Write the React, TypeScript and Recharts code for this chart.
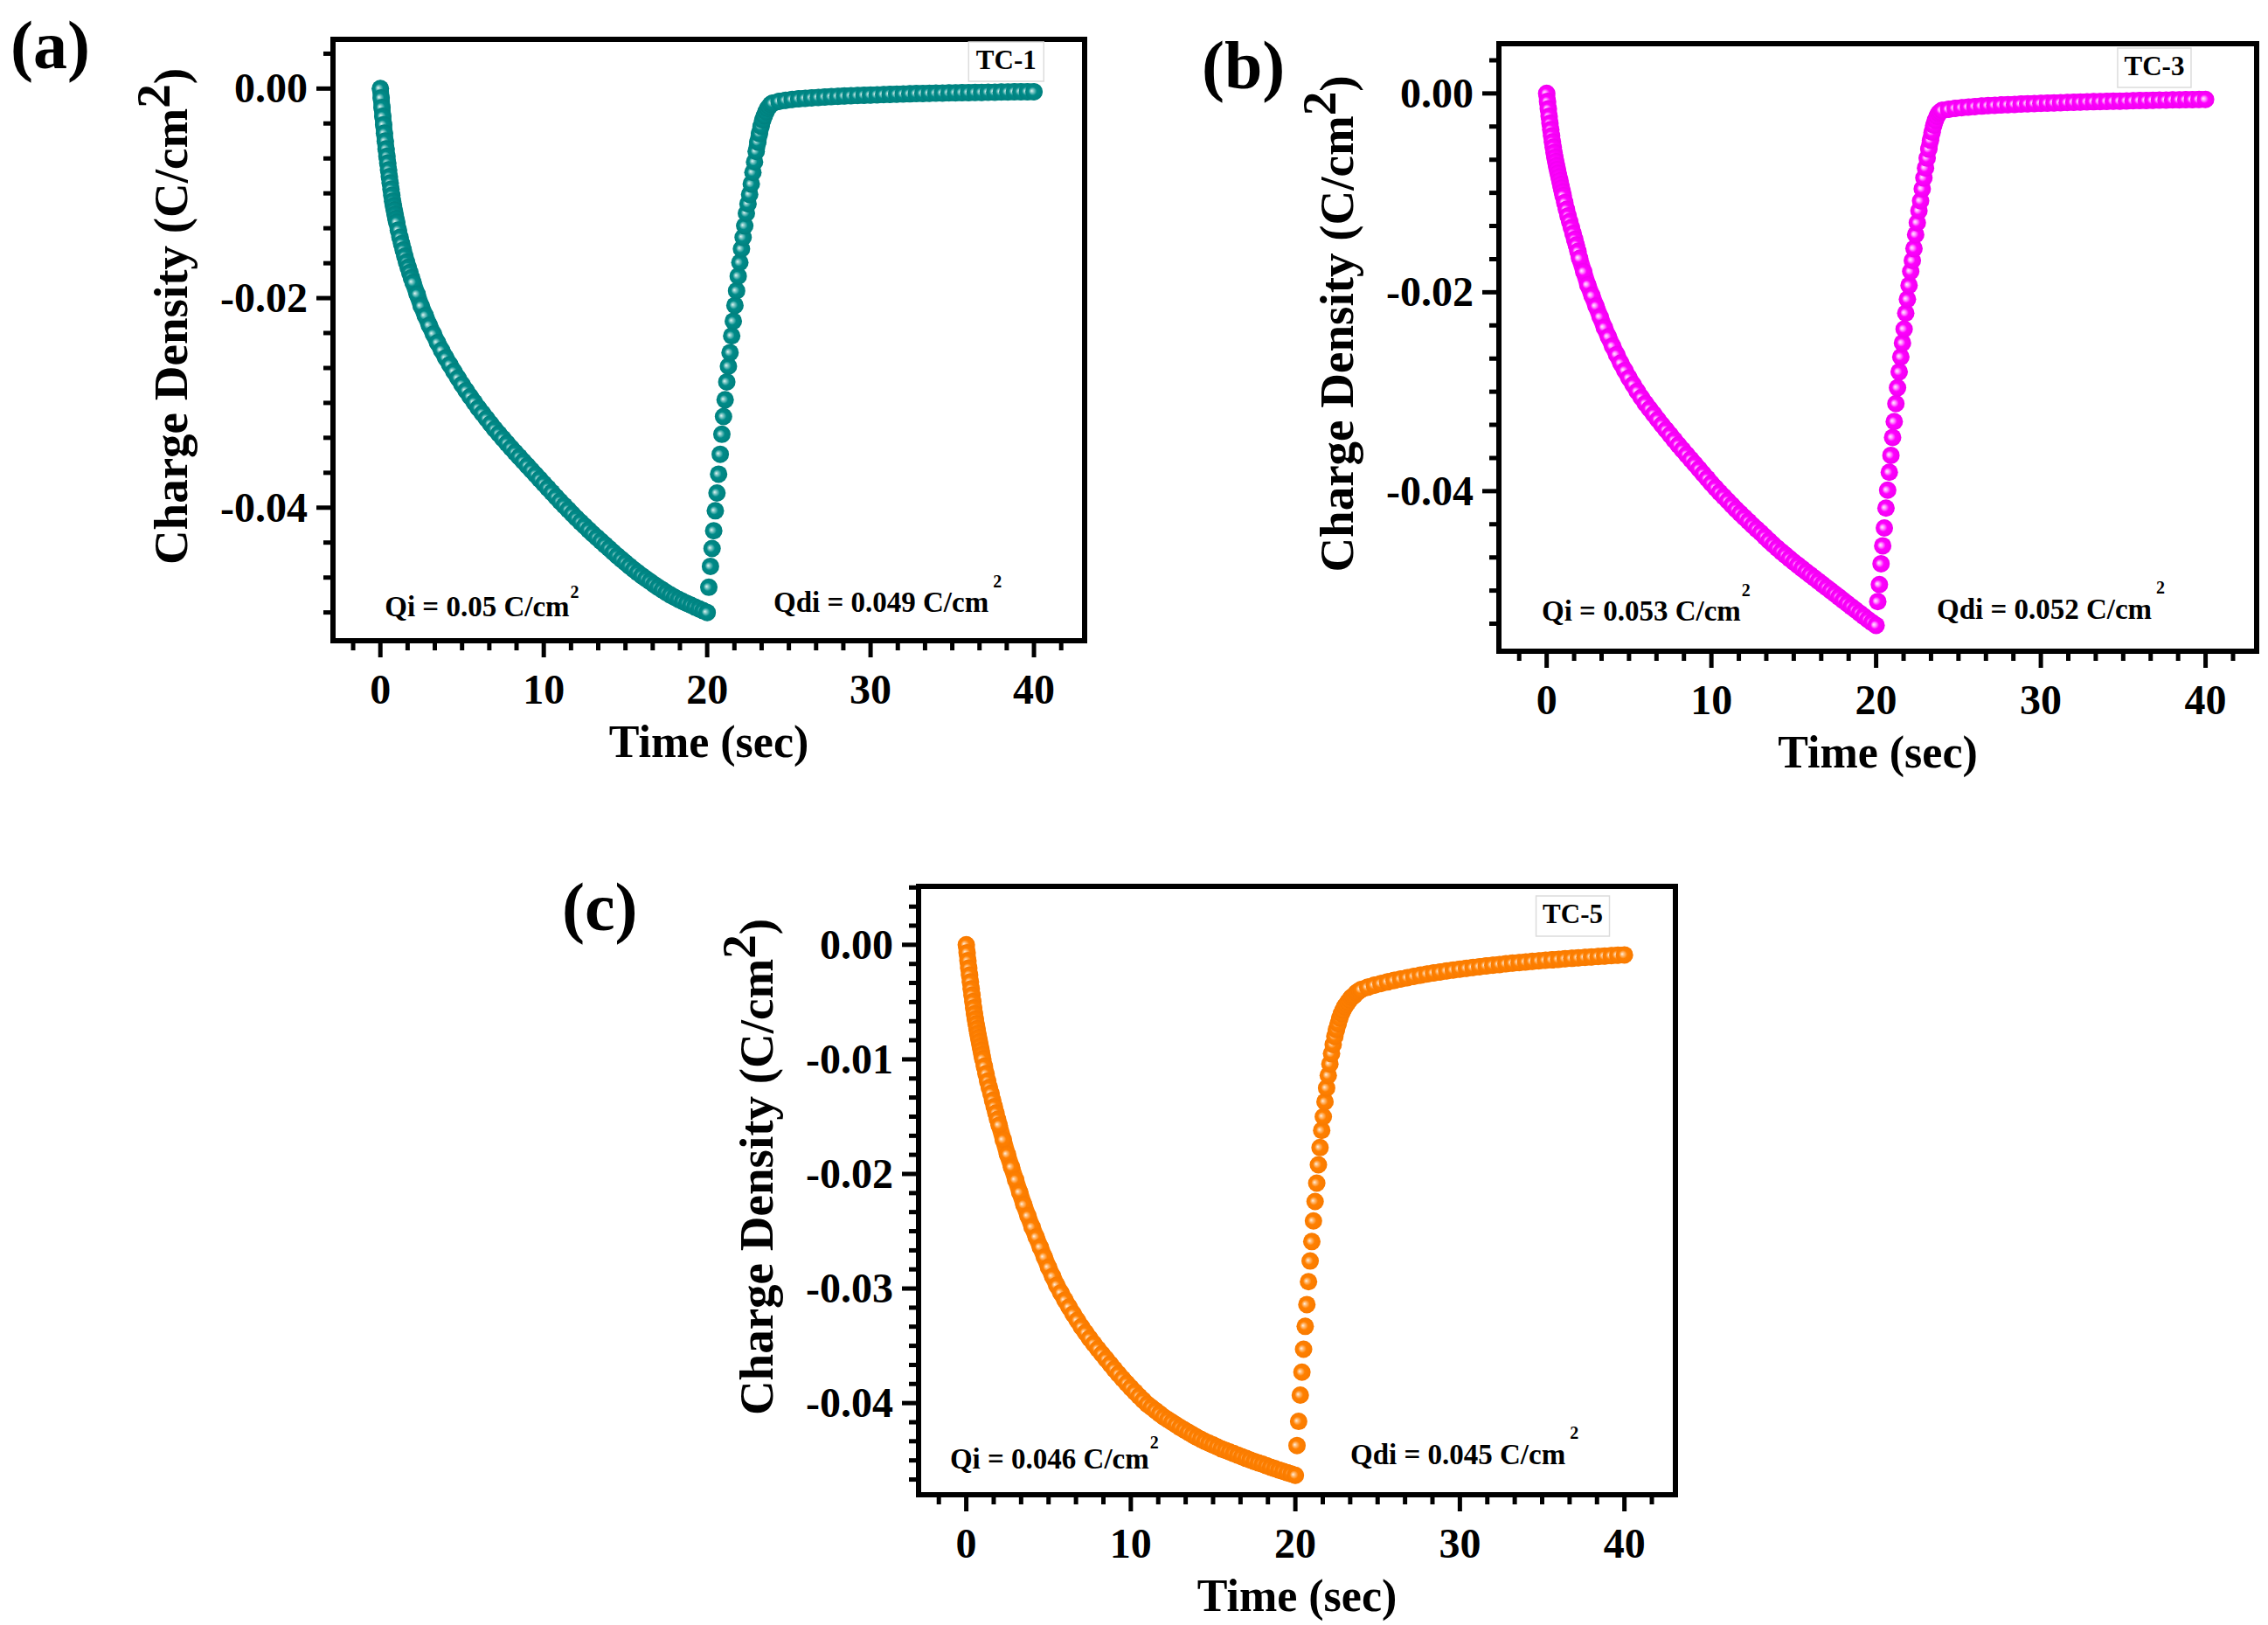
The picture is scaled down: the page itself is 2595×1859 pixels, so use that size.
import React from 'react';
import { ScatterChart, Scatter, XAxis, YAxis, ReferenceArea, ReferenceDot } from 'recharts';

const FONT = '"Liberation Serif", "Times New Roman", Times, serif';

// ---- sampling times (s) ----
const CHARGE_T = [
  0, 0.05, 0.1, 0.15, 0.2, 0.25, 0.3, 0.35, 0.4, 0.45, 0.5, 0.55, 0.6, 0.65, 0.7, 0.75, 0.8, 0.85, 0.9, 0.95, 1,
  1.1, 1.2, 1.3, 1.4, 1.5, 1.6, 1.7, 1.8, 1.9, 2,
  2.25, 2.5, 2.75, 3, 3.25, 3.5, 3.75, 4,
  4.25, 4.5, 4.75, 5, 5.25, 5.5, 5.75, 6,
  6.25, 6.5, 6.75, 7, 7.25, 7.5, 7.75, 8,
  8.25, 8.5, 8.75, 9, 9.25, 9.5, 9.75, 10,
  10.25, 10.5, 10.75, 11, 11.25, 11.5, 11.75, 12,
  12.25, 12.5, 12.75, 13, 13.25, 13.5, 13.75, 14,
  14.25, 14.5, 14.75, 15, 15.25, 15.5, 15.75, 16,
  16.25, 16.5, 16.75, 17, 17.25, 17.5, 17.75, 18,
  18.25, 18.5, 18.75, 19, 19.25, 19.5, 19.75, 20,
];
const DISCHARGE_T = [
  20.1, 20.2, 20.3, 20.4, 20.5, 20.6, 20.7, 20.8, 20.9, 21,
  21.1, 21.2, 21.3, 21.4, 21.5, 21.6, 21.7, 21.8, 21.9, 22,
  22.1, 22.2, 22.3, 22.4, 22.5, 22.6, 22.7, 22.8, 22.9, 23,
  23.1, 23.2, 23.3, 23.4, 23.5, 23.6, 23.7, 23.8, 23.9, 24,
  24.4, 24.8, 25.2, 25.6, 26, 26.4, 26.8, 27.2, 27.6, 28,
  28.4, 28.8, 29.2, 29.6, 30, 30.4, 30.8, 31.2, 31.6, 32,
  32.4, 32.8, 33.2, 33.6, 34, 34.4, 34.8, 35.2, 35.6, 36,
  36.4, 36.8, 37.2, 37.6, 38, 38.4, 38.8, 39.2, 39.6, 40,
];

// ---- TC-1 (C/cm2) ----
const TC1_CHARGE = [
  0, -0.0009, -0.0018, -0.00265, -0.00345, -0.00425, -0.005, -0.00575, -0.00645, -0.0071, -0.00775, -0.0084, -0.009, -0.0096, -0.0102, -0.01075, -0.0112, -0.0116, -0.012, -0.0124, -0.01275,
  -0.0135, -0.0142, -0.0148, -0.0154, -0.016, -0.01655, -0.01705, -0.01755, -0.01805, -0.0185,
  -0.01963, -0.02075, -0.02168, -0.0226, -0.02343, -0.02425, -0.02498, -0.0257,
  -0.02635, -0.027, -0.02763, -0.02825, -0.02883, -0.0294, -0.02995, -0.0305,
  -0.031, -0.0315, -0.032, -0.0325, -0.03295, -0.0334, -0.03385, -0.0343,
  -0.03473, -0.03515, -0.03558, -0.036, -0.03643, -0.03685, -0.03728, -0.0377,
  -0.03813, -0.03855, -0.03898, -0.0394, -0.0398, -0.0402, -0.0406, -0.041,
  -0.04138, -0.04175, -0.04213, -0.0425, -0.04285, -0.0432, -0.04355, -0.0439,
  -0.04425, -0.0446, -0.04493, -0.04525, -0.04558, -0.0459, -0.0462, -0.0465,
  -0.04678, -0.04705, -0.04733, -0.0476, -0.04785, -0.0481, -0.04833, -0.04855,
  -0.04875, -0.04895, -0.04913, -0.0493, -0.04948, -0.04965, -0.04983, -0.05,
];
const TC1_DISCHARGE = [
  -0.0476, -0.0456, -0.0439, -0.0422, -0.0403, -0.0386, -0.0368, -0.0349, -0.033, -0.0313,
  -0.0297, -0.028, -0.0265, -0.0252, -0.0236, -0.0222, -0.0207, -0.0193, -0.0179, -0.0166,
  -0.0153, -0.0142, -0.0131, -0.0119, -0.011, -0.0101, -0.0091, -0.008, -0.007, -0.006,
  -0.0051, -0.0043, -0.0036, -0.003, -0.0026, -0.0022, -0.0019, -0.0017, -0.0015, -0.0014,
  -0.00122, -0.00112, -0.00104, -0.00098, -0.00093, -0.00088, -0.00084, -0.0008, -0.00077, -0.00074,
  -0.00071, -0.00068, -0.00066, -0.00063, -0.00061, -0.00059, -0.00057, -0.00055, -0.00053, -0.00052,
  -0.0005, -0.00048, -0.00047, -0.00045, -0.00044, -0.00043, -0.00041, -0.0004, -0.00039, -0.00038,
  -0.00037, -0.00036, -0.00035, -0.00034, -0.00033, -0.00032, -0.00031, -0.00031, -0.0003, -0.0003,
];

// ---- TC-3 ----
const TC3_CHARGE = [
  0, -0.0008, -0.00155, -0.0023, -0.003, -0.00364, -0.00428, -0.00487, -0.0054, -0.00594, -0.00642, -0.00685, -0.00728, -0.00765, -0.00803, -0.0084, -0.00877, -0.00915, -0.00952, -0.0099, -0.01027,
  -0.01097, -0.01166, -0.01231, -0.01289, -0.01348, -0.01407, -0.01466, -0.01525, -0.01589, -0.01659,
  -0.01792, -0.01926, -0.02033, -0.0214, -0.02247, -0.02354, -0.02448, -0.02541,
  -0.02627, -0.02712, -0.02787, -0.02862, -0.02929, -0.02996, -0.03058, -0.03119,
  -0.03173, -0.03226, -0.0328, -0.03333, -0.03384, -0.03435, -0.03486, -0.03536,
  -0.03585, -0.03633, -0.03681, -0.03729, -0.03777, -0.03825, -0.03873, -0.03922,
  -0.03967, -0.04013, -0.04055, -0.04098, -0.04141, -0.04184, -0.04224, -0.04264,
  -0.04304, -0.04344, -0.04382, -0.04419, -0.04459, -0.04499, -0.04537, -0.04574,
  -0.04609, -0.04644, -0.04679, -0.04713, -0.04745, -0.04778, -0.0481, -0.04842,
  -0.04874, -0.04906, -0.04938, -0.0497, -0.05002, -0.05034, -0.05066, -0.05099,
  -0.05131, -0.05163, -0.05195, -0.05227, -0.05259, -0.05291, -0.05321, -0.0535,
];
const TC3_DISCHARGE = [
  -0.0511, -0.0494, -0.0473, -0.0455, -0.0437, -0.0417, -0.0399, -0.0381, -0.0364, -0.0346,
  -0.033, -0.0312, -0.0296, -0.028, -0.0265, -0.0251, -0.0237, -0.0221, -0.0207, -0.0193,
  -0.0179, -0.0168, -0.0156, -0.0142, -0.013, -0.0118, -0.0108, -0.0096, -0.0085, -0.0075,
  -0.0065, -0.0056, -0.0047, -0.0039, -0.0032, -0.0027, -0.0023, -0.002, -0.00185, -0.0017,
  -0.0016, -0.0015, -0.00143, -0.00137, -0.00132, -0.00127, -0.00123, -0.00119, -0.00116, -0.00113,
  -0.0011, -0.00107, -0.00104, -0.00102, -0.00099, -0.00097, -0.00095, -0.00093, -0.00091, -0.00089,
  -0.00087, -0.00085, -0.00083, -0.00082, -0.0008, -0.00078, -0.00077, -0.00075, -0.00074, -0.00072,
  -0.00071, -0.00069, -0.00068, -0.00067, -0.00065, -0.00064, -0.00063, -0.00062, -0.00061, -0.0006,
];

// ---- TC-5 ----
const TC5_CHARGE = [
  0, -0.00069, -0.00139, -0.00204, -0.00264, -0.00324, -0.00384, -0.0044, -0.00495, -0.00551, -0.00602, -0.00648, -0.0069, -0.00732, -0.00773, -0.0081, -0.00847, -0.00884, -0.00921, -0.00958, -0.00995,
  -0.0106, -0.01125, -0.0119, -0.01245, -0.01296, -0.01357, -0.01412, -0.01468, -0.01523, -0.01574,
  -0.01702, -0.01829, -0.0194, -0.02051, -0.0216, -0.02269, -0.02366, -0.02463,
  -0.02551, -0.02639, -0.02727, -0.02815, -0.02894, -0.02972, -0.03037, -0.03102,
  -0.03162, -0.03222, -0.03278, -0.03334, -0.03385, -0.03435, -0.03482, -0.03528,
  -0.03572, -0.03616, -0.0366, -0.03704, -0.03746, -0.03787, -0.03827, -0.03866,
  -0.03903, -0.0394, -0.03975, -0.0401, -0.04037, -0.04065, -0.04093, -0.04121,
  -0.04144, -0.04167, -0.0419, -0.04213, -0.04234, -0.04255, -0.04276, -0.04297,
  -0.04315, -0.04334, -0.0435, -0.04366, -0.04382, -0.04399, -0.04412, -0.04426,
  -0.0444, -0.04454, -0.04468, -0.04482, -0.04496, -0.0451, -0.04521, -0.04533,
  -0.04547, -0.0456, -0.04572, -0.04584, -0.04595, -0.04607, -0.04618, -0.0463,
];
const TC5_DISCHARGE = [
  -0.0437, -0.0416, -0.0393, -0.0373, -0.0353, -0.0333, -0.0314, -0.0294, -0.0276, -0.0259,
  -0.0241, -0.0224, -0.0208, -0.0192, -0.0177, -0.0162, -0.015, -0.0137, -0.0125, -0.0114,
  -0.0104, -0.0095, -0.0087, -0.008, -0.0074, -0.0069, -0.0064, -0.006, -0.0057, -0.0054,
  -0.0052, -0.005, -0.0048, -0.0046, -0.0045, -0.0044, -0.0042, -0.0041, -0.004, -0.0039,
  -0.0037, -0.00353, -0.00338, -0.00324, -0.00311, -0.00299, -0.00287, -0.00276, -0.00265, -0.00255,
  -0.00246, -0.00237, -0.00228, -0.0022, -0.00212, -0.00205, -0.00198, -0.00191, -0.00184, -0.00178,
  -0.00172, -0.00166, -0.0016, -0.00155, -0.0015, -0.00145, -0.0014, -0.00135, -0.00131, -0.00127,
  -0.00122, -0.00118, -0.00114, -0.0011, -0.00106, -0.00102, -0.00098, -0.00095, -0.00091, -0.00088,
];

// ---- ticks ----
const X_MAJOR = [0, 10, 20, 30, 40];
const X_LABELS = ['0', '10', '20', '30', '40'];
const X_MINOR = [-1.667, 1.667, 3.333, 5, 6.667, 8.333, 11.667, 13.333, 15, 16.667, 18.333, 21.667, 23.333, 25, 26.667, 28.333, 31.667, 33.333, 35, 36.667, 38.333, 41.667];

const Y_MAJOR_AB = [0, -0.02, -0.04];
const Y_LABELS_AB = ['0.00', '-0.02', '-0.04'];
const Y_MINOR_A = [0.00333, -0.00333, -0.00667, -0.01, -0.01333, -0.01667, -0.02333, -0.02667, -0.03, -0.03333, -0.03667, -0.04333, -0.04667, -0.05];
const Y_MINOR_B = [0.00333, -0.00333, -0.00667, -0.01, -0.01333, -0.01667, -0.02333, -0.02667, -0.03, -0.03333, -0.03667, -0.04333, -0.04667, -0.05, -0.05333];
const Y_MAJOR_C = [0, -0.01, -0.02, -0.03, -0.04];
const Y_LABELS_C = ['0.00', '-0.01', '-0.02', '-0.03', '-0.04'];
const Y_MINOR_C = [0.005, 0.00333, 0.00167, -0.00167, -0.00333, -0.005, -0.00667, -0.00833, -0.01167, -0.01333, -0.015, -0.01667, -0.01833, -0.02167, -0.02333, -0.025, -0.02667, -0.02833, -0.03167, -0.03333, -0.035, -0.03667, -0.03833, -0.04167, -0.04333, -0.045, -0.04667];

const X_DOMAIN: [number, number] = [-2.9, 43.1];

type Pt = { t: number; q: number };
function zip(ts: number[], qs: number[]): Pt[] {
  const n = Math.min(ts.length, qs.length);
  const out: Pt[] = [];
  for (let i = 0; i < n; i++) out.push({ t: ts[i], q: qs[i] });
  return out;
}

const Y_AXIS_W = 250;
const X_AXIS_H = 145;
const M_TOP = 10;
const M_RIGHT = 10;
const BEAD_R = 10;

const PANELS = [
  {
    key: 'a', frameLeft: 381, frameTop: 45, plotW: 860, plotH: 688,
    yDomain: [-0.0527, 0.0047] as [number, number],
    yMajor: Y_MAJOR_AB, yLabels: Y_LABELS_AB, yMinor: Y_MINOR_A,
    grad: 'beadTeal', band: '#008b89',
    charge: zip(CHARGE_T, TC1_CHARGE), discharge: zip(DISCHARGE_T, TC1_DISCHARGE), bandFrom: 23.0,
    tc: { text: 'TC-1', x1: 36.0, x2: 40.6, y1: 0.0007, y2: 0.00445 },
    qi: { t: 0.27, q: -0.05036, text: 'Qi = 0.05 C/cm', rise: 21, dx: 1 },
    qdi: { t: 24.06, q: -0.04995, text: 'Qdi = 0.049 C/cm', rise: 28, dx: 5 },
  },
  {
    key: 'b', frameLeft: 1715, frameTop: 50, plotW: 867, plotH: 695,
    yDomain: [-0.0561, 0.005] as [number, number],
    yMajor: Y_MAJOR_AB, yLabels: Y_LABELS_AB, yMinor: Y_MINOR_B,
    grad: 'beadMagenta', band: '#ff00ff',
    charge: zip(CHARGE_T, TC3_CHARGE), discharge: zip(DISCHARGE_T, TC3_DISCHARGE), bandFrom: 23.2,
    tc: { text: 'TC-3', x1: 34.66, x2: 39.12, y1: 0.0006, y2: 0.00456 },
    qi: { t: -0.3, q: -0.05302, text: 'Qi = 0.053 C/cm', rise: 28, dx: 1 },
    qdi: { t: 23.68, q: -0.05285, text: 'Qdi = 0.052 C/cm', rise: 29, dx: 5 },
  },
  {
    key: 'c', frameLeft: 1051, frameTop: 1014, plotW: 866, plotH: 696,
    yDomain: [-0.048, 0.0051] as [number, number],
    yMajor: Y_MAJOR_C, yLabels: Y_LABELS_C, yMinor: Y_MINOR_C,
    grad: 'beadOrange', band: '#ff8000',
    charge: zip(CHARGE_T, TC5_CHARGE), discharge: zip(DISCHARGE_T, TC5_DISCHARGE), bandFrom: 22.4,
    tc: { text: 'TC-5', x1: 34.63, x2: 39.09, y1: 0.00075, y2: 0.00426 },
    qi: { t: -0.99, q: -0.04571, text: 'Qi = 0.046 C/cm', rise: 23, dx: 1 },
    qdi: { t: 23.34, q: -0.04533, text: 'Qdi = 0.045 C/cm', rise: 29, dx: 5 },
  },
];

const PANEL_LETTERS = [
  { text: '(a)', x: 12, y: 78 },
  { text: '(b)', x: 1375, y: 101 },
  { text: '(c)', x: 643, y: 1064 },
];

const XTick = (props: any) => {
  const { x, y, payload } = props;
  const idx = X_MAJOR.indexOf(payload.value);
  const major = idx >= 0;
  return (
    <g>
      <line x1={x} x2={x} y1={y} y2={y + (major ? 19 : 11)} stroke="#000" strokeWidth={5} />
      {major && (
        <text x={x} y={y + 72} textAnchor="middle" fontFamily={FONT} fontWeight="bold" fontSize={48} fill="#000">
          {X_LABELS[idx]}
        </text>
      )}
    </g>
  );
};

const makeYTick = (majors: number[], labels: string[]) => (props: any) => {
  const { x, y, payload } = props;
  const idx = majors.indexOf(payload.value);
  const major = idx >= 0;
  return (
    <g>
      <line x1={x - (major ? 19 : 11)} x2={x} y1={y} y2={y} stroke="#000" strokeWidth={5} />
      {major && (
        <text x={x - 29} y={y} dy={16} textAnchor="end" fontFamily={FONT} fontWeight="bold" fontSize={48} fill="#000">
          {labels[idx]}
        </text>
      )}
    </g>
  );
};

const YTitle = (props: any) => {
  const vb = props.viewBox || {};
  const bx = vb.x + vb.width - 167;
  const cy = vb.y + vb.height / 2 - 27;
  return (
    <text x={bx} y={cy} transform={`rotate(-90 ${bx} ${cy})`} textAnchor="middle" fontFamily={FONT} fontWeight="bold" fontSize={55} fill="#000">
      Charge Density (C/cm<tspan dy={-20}>2</tspan><tspan dy={20}>)</tspan>
    </text>
  );
};

const XTitle = (props: any) => {
  const vb = props.viewBox || {};
  return (
    <text x={vb.x + vb.width / 2} y={vb.y + 133} textAnchor="middle" fontFamily={FONT} fontWeight="bold" fontSize={52} fill="#000">
      Time (sec)
    </text>
  );
};

const makeAnnotation = (text: string, rise: number, dx: number) => (props: any) => {
  const vb = props.viewBox || {};
  const x = vb.x + (vb.width || 0) / 2;
  const y = vb.y + (vb.height || 0) / 2;
  return (
    <text x={x} y={y} textAnchor="start" fontFamily={FONT} fontWeight="bold" fontSize={33} fill="#000">
      {text}
      <tspan dx={dx} dy={-rise} fontSize={20}>2</tspan>
    </text>
  );
};

const makeTcLabel = (text: string) => (props: any) => {
  const vb = props.viewBox || {};
  return (
    <text x={vb.x + vb.width / 2} y={vb.y + vb.height * 0.68} textAnchor="middle" fontFamily={FONT} fontWeight="bold" fontSize={31} fill="#000">
      {text}
    </text>
  );
};

const makeBead = (grad: string) => (props: any) => {
  const { cx, cy } = props;
  if (cx == null || cy == null) return <g />;
  return <circle cx={cx} cy={cy} r={BEAD_R} fill={`url(#${grad})`} />;
};

function Panel({ p }: { p: (typeof PANELS)[number] }) {
  const width = Y_AXIS_W + p.plotW + M_RIGHT;
  const height = M_TOP + p.plotH + X_AXIS_H;
  const xTicks = [...X_MINOR, ...X_MAJOR].sort((a, b) => a - b);
  const yTicks = [...p.yMinor, ...p.yMajor].sort((a, b) => a - b);
  const YTick = makeYTick(p.yMajor, p.yLabels);
  const early = p.discharge.filter((d) => d.t < p.bandFrom);
  const tail = p.discharge.filter((d) => d.t >= p.bandFrom);
  const bandLine = { stroke: p.band, strokeWidth: BEAD_R * 2 - 1, strokeLinecap: 'round', strokeLinejoin: 'round' } as any;
  const bead = makeBead(p.grad);
  return (
    <div style={{ position: 'absolute', left: p.frameLeft - Y_AXIS_W, top: p.frameTop - M_TOP }}>
      <ScatterChart width={width} height={height} margin={{ top: M_TOP, right: M_RIGHT, bottom: 0, left: 0 }}>
        <XAxis
          type="number"
          dataKey="t"
          domain={X_DOMAIN}
          allowDataOverflow
          ticks={xTicks}
          interval={0}
          tick={<XTick />}
          tickLine={false}
          axisLine={false}
          tickSize={0}
          tickMargin={0}
          height={X_AXIS_H}
          label={{ content: XTitle }}
        />
        <YAxis
          type="number"
          dataKey="q"
          domain={p.yDomain}
          allowDataOverflow
          ticks={yTicks}
          interval={0}
          tick={<YTick />}
          tickLine={false}
          axisLine={false}
          tickSize={0}
          tickMargin={0}
          width={Y_AXIS_W}
          label={{ content: YTitle }}
        />
        <ReferenceArea
          x1={X_DOMAIN[0]} x2={X_DOMAIN[1]} y1={p.yDomain[0]} y2={p.yDomain[1]}
          fill="none" stroke="#000" strokeWidth={6} ifOverflow="visible"
        />
        <ReferenceArea
          x1={p.tc.x1} x2={p.tc.x2} y1={p.tc.y1} y2={p.tc.y2}
          fill="#ffffff" fillOpacity={1} stroke="#dcdcdc" strokeWidth={1.5} ifOverflow="visible"
          label={{ content: makeTcLabel(p.tc.text) }}
        />
        <Scatter name="charge" data={p.charge} isAnimationActive={false} line={bandLine} shape={bead} />
        <Scatter name="discharge-fast" data={early} isAnimationActive={false} shape={bead} />
        <Scatter name="discharge-tail" data={tail} isAnimationActive={false} line={bandLine} shape={bead} />
        <ReferenceDot x={p.qi.t} y={p.qi.q} r={1} fill="none" stroke="none" ifOverflow="visible"
          label={{ content: makeAnnotation(p.qi.text, p.qi.rise, p.qi.dx) }} />
        <ReferenceDot x={p.qdi.t} y={p.qdi.q} r={1} fill="none" stroke="none" ifOverflow="visible"
          label={{ content: makeAnnotation(p.qdi.text, p.qdi.rise, p.qdi.dx) }} />
      </ScatterChart>
    </div>
  );
}

export default function App() {
  return (
    <div style={{ position: 'absolute', left: 0, top: 0, width: 2595, height: 1859, background: '#ffffff', overflow: 'hidden' }}>
      <svg width={2595} height={1859} style={{ position: 'absolute', left: 0, top: 0 }}>
        <defs>
          <radialGradient id="beadTeal" cx="0.5" cy="0.5" r="0.5" fx="0.36" fy="0.45">
            <stop offset="0" stopColor="#e2f4f3" />
            <stop offset="0.2" stopColor="#7fc8c6" />
            <stop offset="0.48" stopColor="#008b89" />
            <stop offset="1" stopColor="#00807e" />
          </radialGradient>
          <radialGradient id="beadMagenta" cx="0.5" cy="0.5" r="0.5" fx="0.36" fy="0.45">
            <stop offset="0" stopColor="#ffe6ff" />
            <stop offset="0.2" stopColor="#ff9cff" />
            <stop offset="0.48" stopColor="#ff00ff" />
            <stop offset="1" stopColor="#f000f0" />
          </radialGradient>
          <radialGradient id="beadOrange" cx="0.5" cy="0.5" r="0.5" fx="0.36" fy="0.45">
            <stop offset="0" stopColor="#fff0e0" />
            <stop offset="0.2" stopColor="#ffbc78" />
            <stop offset="0.48" stopColor="#ff8000" />
            <stop offset="1" stopColor="#f87a00" />
          </radialGradient>
        </defs>
        {PANEL_LETTERS.map((l) => (
          <text key={l.text} x={l.x} y={l.y} fontFamily={FONT} fontWeight="bold" fontSize={78} fill="#000">
            {l.text}
          </text>
        ))}
      </svg>
      {PANELS.map((p) => (
        <Panel key={p.key} p={p} />
      ))}
    </div>
  );
}
